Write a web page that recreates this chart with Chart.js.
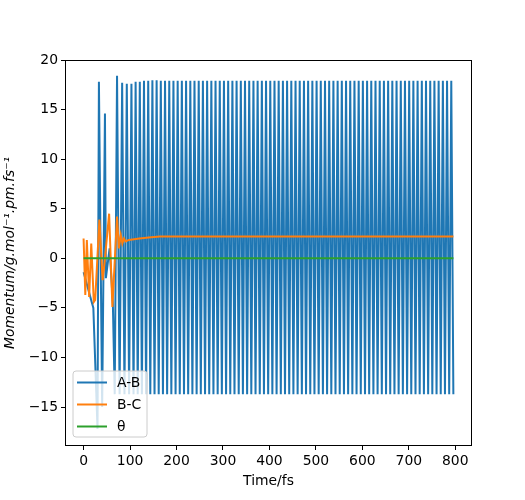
<!DOCTYPE html>
<html><head><meta charset="utf-8">
<script src="https://cdn.jsdelivr.net/npm/chart.js@4/dist/chart.umd.min.js"></script>
<style>html,body{margin:0;padding:0;background:#fff}canvas{display:block}</style>
</head><body>
<canvas id="c" width="525" height="500"></canvas>
<script>
const seriesLabels = ['A-B', 'B-C', 'θ'];
const seriesColors = ['#1f77b4', '#ff7f0e', '#2ca02c'];

const abTime = [0, 21, 30, 33, 40, 46, 48, 56, 63, 67, 72, 77.5, 83, 88, 93, 98, 103, 107.5, 112, 116.5, 121, 125.5,
130,134.5,139.1,143.6,148.1,152.7,157.2,161.7,166.2,170.8,175.3,179.8,184.4,188.9,193.4,198.0,202.5,207.0,211.5,216.1,
220.6,225.1,229.7,234.2,238.7,243.3,247.8,252.3,256.8,261.4,265.9,270.4,275.0,279.5,284.0,288.6,293.1,297.6,302.1,306.7,
311.2,315.7,320.3,324.8,329.3,333.9,338.4,342.9,347.4,352.0,356.5,361.0,365.6,370.1,374.6,379.2,383.7,388.2,392.7,397.3,
401.8,406.3,410.9,415.4,419.9,424.5,429.0,433.5,438.0,442.6,447.1,451.6,456.2,460.7,465.2,469.8,474.3,478.8,483.3,487.9,
492.4,496.9,501.5,506.0,510.5,515.1,519.6,524.1,528.6,533.2,537.7,542.2,546.8,551.3,555.8,560.4,564.9,569.4,573.9,578.5,
583.0,587.5,592.1,596.6,601.1,605.7,610.2,614.7,619.2,623.8,628.3,632.8,637.4,641.9,646.4,651.0,655.5,660.0,664.5,669.1,
673.6,678.1,682.7,687.2,691.7,696.3,700.8,705.3,709.8,714.4,718.9,723.4,728.0,732.5,737.0,741.6,746.1,750.6,755.1,759.7,
764.2,768.7,773.3,777.8,782.3,786.9,791.4,795.9];
const abMomentum = [-1.4, -5.0, -17.2, 17.8, -15.0, 14.6, -2.0, 1.0, -4.5, -13.7, 18.4, -13.7, 17.7, -13.7, 17.6, -13.7, 17.6, -13.7, 17.8, -13.7, 17.8, -13.7,
17.9,-13.7,17.9,-13.7,17.95,-13.7,17.95,-13.7,17.9,-13.7,17.9,-13.7,17.9,-13.7,17.9,-13.7,17.9,-13.7,17.9,-13.7,17.9,-13.7,17.9,-13.7,
17.9,-13.7,17.9,-13.7,17.9,-13.7,17.9,-13.7,17.9,-13.7,17.9,-13.7,17.9,-13.7,17.9,-13.7,17.9,-13.7,17.9,-13.7,17.9,-13.7,17.9,-13.7,
17.9,-13.7,17.9,-13.7,17.9,-13.7,17.9,-13.7,17.9,-13.7,17.9,-13.7,17.9,-13.7,17.9,-13.7,17.9,-13.7,17.9,-13.7,17.9,-13.7,17.9,-13.7,
17.9,-13.7,17.9,-13.7,17.9,-13.7,17.9,-13.7,17.9,-13.7,17.9,-13.7,17.9,-13.7,17.9,-13.7,17.9,-13.7,17.9,-13.7,17.9,-13.7,17.9,-13.7,
17.9,-13.7,17.9,-13.7,17.9,-13.7,17.9,-13.7,17.9,-13.7,17.9,-13.7,17.9,-13.7,17.9,-13.7,17.9,-13.7,17.9,-13.7,17.9,-13.7,17.9,-13.7,
17.9,-13.7,17.9,-13.7,17.9,-13.7,17.9,-13.7,17.9,-13.7,17.9,-13.7,17.9,-13.7,17.9,-13.7,17.9,-13.7,17.9,-13.7,17.9,-13.7,17.9,-13.7,
17.9,-13.7,17.9,-13.7];

const bcTime = [0, 3.7, 7, 12, 16.5, 22, 25, 34, 41, 45, 48, 55, 62, 72, 76, 80, 83.5, 87, 90.5, 97.5, 105, 120, 140, 164, 200, 796];
const bcMomentum = [2.0, -3.7, 1.85, -3.9, 1.5, -4.4, -4.2, 3.9, -2.2, -0.5, 1.0, 4.5, -4.9, 4.2, 1.0, 2.35, 1.5, 2.0, 1.7, 1.85, 1.9, 2.0, 2.1, 2.2, 2.2, 2.2];

const thetaTime = [0, 796];
const thetaMomentum = [0, 0];

const xTicks = [0, 100, 200, 300, 400, 500, 600, 700, 800];
const yTicks = [-15, -10, -5, 0, 5, 10, 15, 20];
const xTitle = 'Time/fs';
const yTitle = 'Momentum/g.mol⁻¹.pm.fs⁻¹';

const FONT = 'DejaVu Sans';
const FS = 13.9;
const pts = (t, v) => t.map((x, i) => ({x: x, y: v[i]}));
const fmt = v => String(v).replace('-', '\u2212');

const framePlugin = {
  id: 'frame',
  afterDatasetsDraw(chart) {
    const {ctx, chartArea: a} = chart;
    ctx.save();
    ctx.strokeStyle = '#000';
    ctx.lineWidth = 1;
    ctx.strokeRect(Math.round(a.left) + 0.5, Math.round(a.top) + 0.5, Math.round(a.right - a.left) - 1, Math.round(a.bottom - a.top) - 1);
    ctx.restore();
  }
};

const legendPlugin = {
  id: 'innerLegend',
  afterDraw(chart) {
    const {ctx, chartArea: a} = chart;
    const x0 = a.left + 8, y0 = a.bottom - 75, w = 74, h = 66, r = 3;
    ctx.save();
    ctx.beginPath();
    ctx.moveTo(x0 + r, y0);
    ctx.lineTo(x0 + w - r, y0); ctx.arcTo(x0 + w, y0, x0 + w, y0 + r, r);
    ctx.lineTo(x0 + w, y0 + h - r); ctx.arcTo(x0 + w, y0 + h, x0 + w - r, y0 + h, r);
    ctx.lineTo(x0 + r, y0 + h); ctx.arcTo(x0, y0 + h, x0, y0 + h - r, r);
    ctx.lineTo(x0, y0 + r); ctx.arcTo(x0, y0, x0 + r, y0, r);
    ctx.closePath();
    ctx.fillStyle = 'rgba(255,255,255,0.8)';
    ctx.fill();
    ctx.strokeStyle = '#cccccc';
    ctx.lineWidth = 1;
    ctx.stroke();
    chart.data.datasets.forEach((ds, i) => {
      const y = y0 + 11.5 + 22 * i;
      ctx.beginPath();
      ctx.moveTo(x0 + 4, y);
      ctx.lineTo(x0 + 34, y);
      ctx.strokeStyle = ds.borderColor;
      ctx.lineWidth = 2;
      ctx.stroke();
      ctx.fillStyle = '#000';
      ctx.font = FS + 'px "' + FONT + '"';
      ctx.textBaseline = 'middle';
      ctx.textAlign = 'left';
      ctx.fillText(ds.label, x0 + 44, y + 1);
    });
    ctx.restore();
  }
};

const ctx = document.getElementById('c').getContext('2d');
new Chart(ctx, {
  type: 'line',
  data: {
    datasets: [
      {label: seriesLabels[0], data: pts(abTime, abMomentum), borderColor: seriesColors[0], borderWidth: 2, pointRadius: 0, tension: 0, order: 3},
      {label: seriesLabels[1], data: pts(bcTime, bcMomentum), borderColor: seriesColors[1], borderWidth: 2, pointRadius: 0, tension: 0, order: 2},
      {label: seriesLabels[2], data: pts(thetaTime, thetaMomentum), borderColor: seriesColors[2], borderWidth: 2, pointRadius: 0, tension: 0, order: 1}
    ]
  },
  options: {
    responsive: false,
    animation: false,
    devicePixelRatio: 1,
    layout: {padding: {left: 0, right: 53, top: 60, bottom: 0}},
    plugins: {legend: {display: false}, tooltip: {enabled: false}},
    scales: {
      x: {
        type: 'linear', min: -40, max: 836,
        afterBuildTicks: s => { s.ticks = xTicks.map(v => ({value: v})); },
        afterFit: s => { s.height = 54; },
        ticks: {font: {family: FONT, size: FS}, color: '#000', padding: 3, maxRotation: 0, autoSkip: false, callback: v => fmt(v)},
        grid: {drawOnChartArea: false, drawTicks: true, tickLength: 4, color: '#000', lineWidth: 1},
        border: {display: false},
        title: {display: true, text: xTitle, font: {family: FONT, size: FS}, color: '#000', padding: {top: 0, bottom: 10}}
      },
      y: {
        type: 'linear', min: -18.93, max: 20,
        afterBuildTicks: s => { s.ticks = yTicks.map(v => ({value: v})); },
        afterFit: s => { s.width = 65; },
        ticks: {font: {family: FONT, size: FS}, color: '#000', padding: 3, autoSkip: false, callback: v => fmt(v)},
        grid: {drawOnChartArea: false, drawTicks: true, tickLength: 4, color: '#000', lineWidth: 1},
        border: {display: false},
        title: {display: true, text: yTitle, font: {family: FONT, size: FS, style: 'italic'}, color: '#000', padding: {top: 2, bottom: 0}}
      }
    }
  },
  plugins: [framePlugin, legendPlugin]
});
</script>
</body></html>
